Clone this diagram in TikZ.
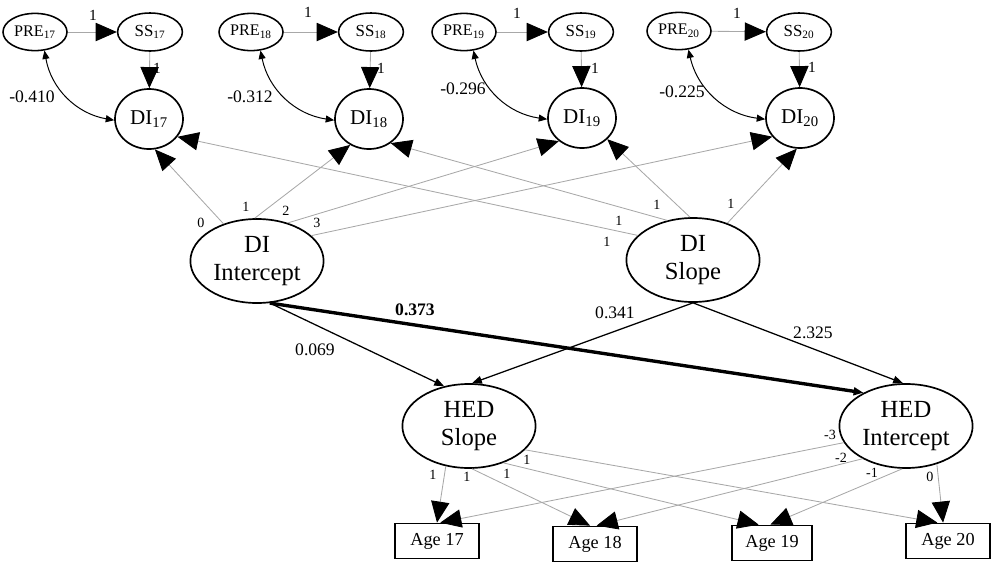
\documentclass[tikz,border=0pt]{standalone}
\usepackage{fontspec}
\setmainfont{Liberation Serif}
\usepackage{tikz}
\usetikzlibrary{shapes.geometric}
\usetikzlibrary{arrows.meta}

\definecolor{pathgray}{gray}{0.66}

\tikzset{
  lat/.style={ellipse, draw, line width=1.2pt, inner sep=0pt, align=center,
    minimum width=3.33cm, minimum height=2.1cm, font=\fontsize{17.5}{20}\selectfont},
  pre/.style={ellipse, draw, line width=1.1pt, inner sep=0pt,
    minimum width=1.6cm, minimum height=0.93cm, font=\fontsize{11.5}{13}\selectfont},
  ss/.style={ellipse, draw, line width=1.1pt, inner sep=0pt,
    minimum width=1.62cm, minimum height=0.95cm, font=\fontsize{12}{14}\selectfont},
  di/.style={ellipse, draw, line width=1.2pt, inner sep=0pt,
    minimum width=1.7cm, minimum height=1.5cm, font=\fontsize{15}{17}\selectfont},
  age/.style={rectangle, draw, line width=1.1pt, inner sep=0pt,
    minimum width=2.1cm, minimum height=0.88cm, font=\fontsize{13}{15}\selectfont},
  load/.style={draw=pathgray, line width=0.6pt,
    -{Triangle[length=15pt,width=13pt,color=black]}},
  reg/.style={draw=black, line width=0.9pt,
    -{Triangle[length=7pt,width=5.5pt]}},
  cov/.style={draw=black, line width=0.7pt,
    {Triangle[length=6pt,width=5pt]}-{Triangle[length=6pt,width=5pt]}},
  coef/.style={font=\fontsize{12.5}{14}\selectfont, inner sep=0pt},
  wt/.style={font=\fontsize{10}{12}\selectfont, inner sep=0pt},
}

\begin{document}
\begin{tikzpicture}[x=0.025cm, y=-0.025cm]
\useasboundingbox (0,0) rectangle (994,566);

% measurement part, ages 17-20
\node[pre] (pre17) at (35,32) {PRE\textsubscript{17}};
\node[ss] (ss17) at (150,32) {SS\textsubscript{17}};
\node[di] (di17) at (149,119) {DI\textsubscript{17}};
\node[pre] (pre18) at (251,32) {PRE\textsubscript{18}};
\node[ss] (ss18) at (371,32) {SS\textsubscript{18}};
\node[di] (di18) at (369,119) {DI\textsubscript{18}};
\node[pre] (pre19) at (464,32) {PRE\textsubscript{19}};
\node[ss] (ss19) at (581,32) {SS\textsubscript{19}};
\node[di] (di19) at (582,118) {DI\textsubscript{19}};
\node[pre] (pre20) at (679,31) {PRE\textsubscript{20}};
\node[ss] (ss20) at (799,32) {SS\textsubscript{20}};
\node[di] (di20) at (800,118) {DI\textsubscript{20}};

\draw[load] (pre17) -- (ss17);
\draw[load] (pre18) -- (ss18);
\draw[load] (pre19) -- (ss19);
\draw[load] (pre20) -- (ss20);
\draw[load] (ss17) -- (di17);
\draw[load] (ss18) -- (di18);
\draw[load] (ss19) -- (di19);
\draw[load] (ss20) -- (di20);
\node[wt, font=\fontsize{11}{13}\selectfont] (w1a) at (93,15) {1};
\node[wt, font=\fontsize{11}{13}\selectfont] (w1b) at (308,12) {1};
\node[wt, font=\fontsize{11}{13}\selectfont] (w1c) at (517,13) {1};
\node[wt, font=\fontsize{11}{13}\selectfont] (w1d) at (737,13) {1};
\node[wt, font=\fontsize{11}{13}\selectfont] (w2a) at (157,68) {1};
\node[wt, font=\fontsize{11}{13}\selectfont] (w2b) at (381,68) {1};
\node[wt, font=\fontsize{11}{13}\selectfont] (w2c) at (595,68) {1};
\node[wt, font=\fontsize{11}{13}\selectfont] (w2d) at (812,67) {1};

% covariances
\draw[cov] (pre17.-63) to[bend right=35] (di17.182);
\draw[cov] (pre18.-63) to[bend right=35] (di18.182);
\draw[cov] (pre19.-63) to[bend right=35] (di19.182);
\draw[cov] (pre20.-63) to[bend right=35] (di20.182);
\node[coef] (c17) at (32,97) {-0.410};
\node[coef] (c18) at (250,97) {-0.312};
\node[coef] (c19) at (463,89) {-0.296};
\node[coef] (c20) at (682,92) {-0.225};

% growth factors
\node[lat] (dii) at (257,261) {DI\\Intercept};
\node[lat] (dis) at (693,260) {DI\\Slope};
\node[lat] (heds) at (469,426) {HED\\Slope};
\node[lat] (hedi) at (906,426) {HED\\Intercept};

\draw[load] (dii.132) -- (di17.-79);
\draw[load] (dii.93) -- (di18.-126);
\draw[load] (dii.51) -- (di19.-135);
\draw[load] (dii.25) -- (di20.-146);
\draw[load] (dis.156) -- (di17.-32);
\draw[load] (dis.123) -- (di18.-48);
\draw[load] (dis.94) -- (di19.-40);
\draw[load] (dis.47) -- (di20.-96);
\node[wt] (l0) at (201,223) {0};
\node[wt] (l1) at (246,207) {1};
\node[wt] (l2) at (286,211) {2};
\node[wt] (l3) at (317,223) {3};
\node[wt] (s1a) at (607,242) {1};
\node[wt] (s1b) at (619,221) {1};
\node[wt] (s1c) at (657,205) {1};
\node[wt] (s1d) at (731,204) {1};

% regressions
\draw[reg] (dii.-73) -- (heds.122);
\draw[reg, line width=2.4pt] (dii.-73) -- (hedi.142);
\draw[reg] (dis.-90) -- (heds.86);
\draw[reg] (dis.-90) -- (hedi.94);
\node[coef] (b1) at (315,350) {0.069};
\node[coef] (b2) at (415,310) {\textbf{0.373}};
\node[coef] (b3) at (615,313) {0.341};
\node[coef] (b4) at (813,333) {2.325};

% HED indicators
\node[age] (age17) at (437,541) {Age 17};
\node[age] (age18) at (595,544) {Age 18};
\node[age, minimum width=2cm] (age19) at (772,543) {Age 19};
\node[age] (age20) at (948,541) {Age 20};

\draw[load] (heds.-120) -- (age17.north);
\draw[load] (heds.-86) -- (age18.105);
\draw[load] (heds.-47) -- (age19.126);
\draw[load] (heds.-23) -- (age20.120);
\draw[load] (hedi.-165) -- (age17.80);
\draw[load] (hedi.-143) -- (age18.85);
\draw[load] (hedi.-95) -- (age19.95);
\draw[load] (hedi.-51) -- (age20.105);
\node[wt] (h1a) at (433,475) {1};
\node[wt] (h1b) at (467,477) {1};
\node[wt] (h1c) at (507,474) {1};
\node[wt] (h1d) at (527,460) {1};
\node[wt] (i3) at (830,435) {-3};
\node[wt] (i2) at (841,458) {-2};
\node[wt] (i1) at (872,473) {-1};
\node[wt] (i0) at (930,477) {0};
\end{tikzpicture}
\end{document}
